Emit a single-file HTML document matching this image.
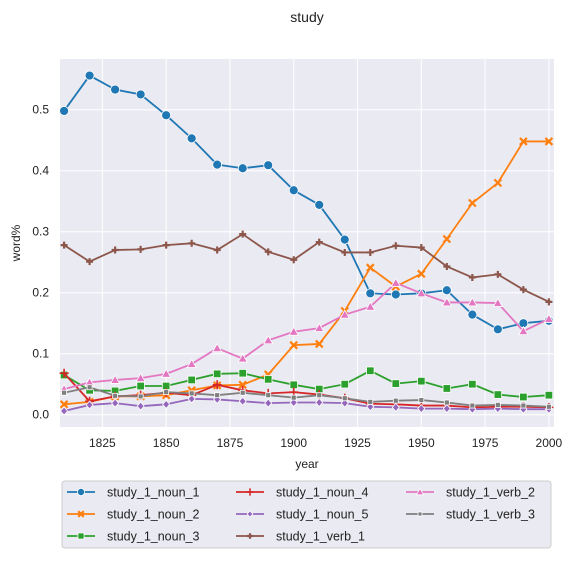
<!DOCTYPE html>
<html><head><meta charset="utf-8"><style>
body{margin:0;background:#fff;font-family:"Liberation Sans",Arial,sans-serif}
svg text{font-family:"Liberation Sans",Arial,sans-serif;fill:#222}
</style></head><body>
<svg id="chart" width="575" height="558">
<text x="307" y="22" text-anchor="middle" font-size="14">study</text>
<rect x="60" y="59" width="494" height="368" fill="#eaeaf2"/>
<g id="grid"></g><g id="series"></g><g id="ticks"></g>
<text x="307" y="468" text-anchor="middle" font-size="12">year</text>
<text transform="translate(20,243) rotate(-90)" text-anchor="middle" font-size="12">word%</text>
<rect x="62" y="481" width="489" height="67" rx="3" fill="#eaeaf2" stroke="#ccc"/>
<g id="legend"></g>
</svg>
<script>
const years=[1810,1820,1830,1840,1850,1860,1870,1880,1890,1900,1910,1920,1930,1940,1950,1960,1970,1980,1990,2000];
const noun1=[0.498,0.556,0.533,0.525,0.491,0.453,0.410,0.404,0.409,0.368,0.344,0.287,0.199,0.197,0.199,0.204,0.164,0.140,0.150,0.154];
const noun2=[0.017,0.021,0.030,0.030,0.032,0.040,0.048,0.049,0.066,0.114,0.116,0.170,0.241,0.210,0.231,0.288,0.347,0.380,0.448,0.448];
const noun3=[0.065,0.040,0.039,0.047,0.047,0.057,0.067,0.068,0.058,0.049,0.042,0.050,0.072,0.051,0.055,0.043,0.050,0.033,0.029,0.032];
const noun4=[0.068,0.022,0.030,0.032,0.036,0.032,0.049,0.040,0.035,0.037,0.033,0.027,0.018,0.017,0.015,0.015,0.012,0.013,0.013,0.012];
const noun5=[0.006,0.016,0.019,0.014,0.017,0.026,0.025,0.022,0.019,0.020,0.020,0.019,0.013,0.012,0.010,0.010,0.009,0.010,0.009,0.009];
const verb1=[0.278,0.251,0.270,0.271,0.278,0.281,0.270,0.296,0.267,0.254,0.283,0.266,0.266,0.277,0.274,0.243,0.225,0.230,0.205,0.185];
const verb2=[0.042,0.053,0.057,0.060,0.067,0.083,0.109,0.092,0.122,0.136,0.142,0.164,0.177,0.216,0.199,0.184,0.184,0.183,0.137,0.157];
const verb3=[0.036,0.045,0.031,0.030,0.037,0.035,0.032,0.036,0.032,0.028,0.032,0.027,0.021,0.023,0.024,0.020,0.015,0.016,0.015,0.013];
const xTicks=[1825,1850,1875,1900,1925,1950,1975,2000];
const yTicks=[0.0,0.1,0.2,0.3,0.4,0.5];
const seriesNames=["study_1_noun_1","study_1_noun_2","study_1_noun_3","study_1_noun_4","study_1_noun_5","study_1_verb_1","study_1_verb_2","study_1_verb_3"];
const seriesData=[noun1,noun2,noun3,noun4,noun5,verb1,verb2,verb3];
const colors=["#1f77b4","#ff7f0e","#2ca02c","#d62728","#9467bd","#8c564b","#e377c2","#7f7f7f"];
const markers=["circle","x","square","plus","diamond","star","triangle","smallsq"];
const NS="http://www.w3.org/2000/svg";
const X=v=>60+(v-1808.4)*(494/193.6);
const Y=v=>414.7-v*610;
function mk(t,a,p){const e=document.createElementNS(NS,t);for(const k in a)e.setAttribute(k,a[k]);p.appendChild(e);return e;}
const grid=document.getElementById('grid'),ticks=document.getElementById('ticks');
xTicks.forEach(t=>{const l=mk('line',{x1:X(t),x2:X(t),y1:59,y2:427,stroke:'#fff','stroke-width':1},grid);

const tx=mk('text',{x:X(t),y:447,'text-anchor':'middle','font-size':12},ticks);tx.textContent=t;
});
yTicks.forEach(t=>{const l=mk('line',{x1:60,x2:554,y1:Y(t),y2:Y(t),stroke:'#fff','stroke-width':1},grid);

const tx=mk('text',{x:49,y:Y(t)+4,'text-anchor':'end','font-size':12},ticks);tx.textContent=t.toFixed(1);
});
function marker(g,type,x,y,c,s){s=s||1;
 if(type==='circle')return mk('circle',{cx:x,cy:y,r:4.5*s,fill:c,stroke:'#fff','stroke-width':0.8},g);
 if(type==='square')return mk('rect',{x:x-3.8*s,y:y-3.8*s,width:7.6*s,height:7.6*s,fill:c,stroke:'#fff','stroke-width':0.8},g);
 if(type==='smallsq')return mk('rect',{x:x-2.5*s,y:y-2.5*s,width:5*s,height:5*s,fill:c,stroke:'#fff','stroke-width':0.8},g);
 if(type==='diamond')return mk('path',{d:`M${x},${y-4*s}L${x+3.5*s},${y}L${x},${y+4*s}L${x-3.5*s},${y}Z`,fill:c,stroke:'#fff','stroke-width':0.8},g);
 if(type==='triangle')return mk('path',{d:`M${x},${y-4.5*s}L${x+4.5*s},${y+3.5*s}L${x-4.5*s},${y+3.5*s}Z`,fill:c,stroke:'#fff','stroke-width':0.8},g);
 if(type==='x'){const d=3.5*s;return mk('path',{d:`M${x-d},${y-d}L${x+d},${y+d}M${x-d},${y+d}L${x+d},${y-d}`,stroke:c,'stroke-width':2.2},g);}
 if(type==='plus'){const d=4.5*s;return mk('path',{d:`M${x-d},${y}L${x+d},${y}M${x},${y-d}L${x},${y+d}`,stroke:c,'stroke-width':1.6},g);}
 if(type==='star'){const d=3.5*s;return mk('path',{d:`M${x-d},${y}L${x+d},${y}M${x},${y-d}L${x},${y+d}`,stroke:c,'stroke-width':2.2},g);}
}
const sg=document.getElementById('series');
seriesData.forEach((vals,i)=>{const g=mk('g',{},sg);
 
 
 const pts=vals.map((v,j)=>X(years[j])+','+Y(v)).join(' ');
 const pl=mk('polyline',{points:pts,fill:'none',stroke:colors[i],'stroke-width':1.8},g);
 
 vals.forEach((v,j)=>{const m=marker(g,markers[i],X(years[j]),Y(v),colors[i]);
  });
});
const lg=document.getElementById('legend');
const colX=[67,236,406],rowY=[492,514,536];
seriesNames.forEach((n,i)=>{const c=Math.floor(i/3),r=i%3;const g=mk('g',{},lg);
 
 const x=colX[c],y=rowY[r];
 mk('line',{x1:x,x2:x+28,y1:y,y2:y,stroke:colors[i],'stroke-width':1.8},g);
 marker(g,markers[i],x+14,y,colors[i],0.8);
 const t=mk('text',{x:x+40,y:y+4.5,'font-size':12.5},g);t.textContent=n;
});
</script>
</body></html>
